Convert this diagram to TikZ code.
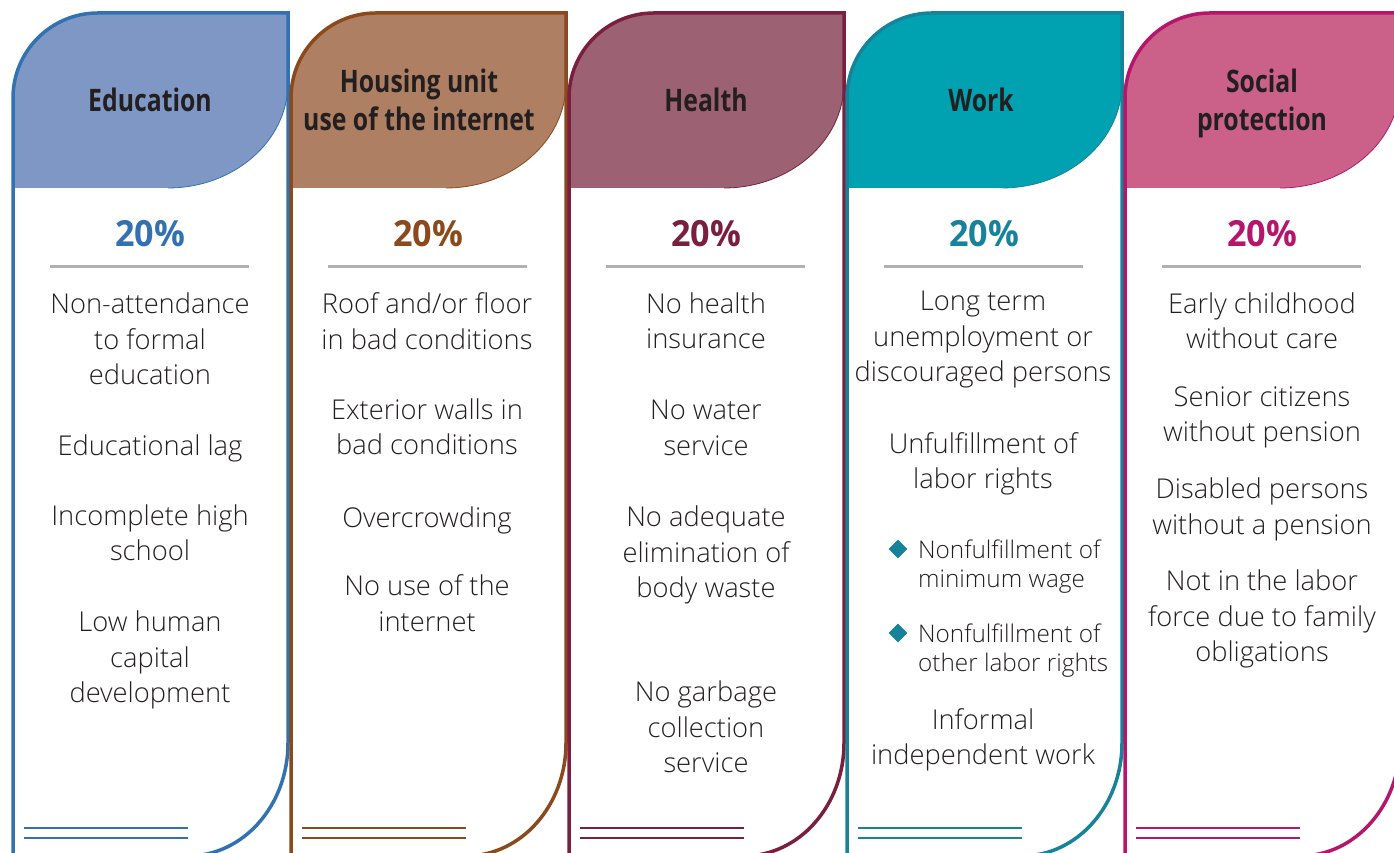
\documentclass[tikz,border=0pt]{standalone}
\usepackage{fontspec}
\setmainfont{Open Sans}[UprightFont=* Light]
\newfontfamily\headfont[FakeStretch=0.8]{Open Sans}
\newfontfamily\pctfont[FakeStretch=0.95]{Open Sans}
\usetikzlibrary{shapes.geometric}

\definecolor{eduline}{HTML}{3372B0}
\definecolor{edufill}{HTML}{7F97C4}
\definecolor{houline}{HTML}{8B4A1C}
\definecolor{houfill}{HTML}{AE7F62}
\definecolor{healine}{HTML}{7A1F3D}
\definecolor{heafill}{HTML}{9C6274}
\definecolor{worline}{HTML}{17839B}
\definecolor{worfill}{HTML}{00A1B1}
\definecolor{socline}{HTML}{B5166B}
\definecolor{socfill}{HTML}{CB6189}
\definecolor{ink}{HTML}{231F20}
\definecolor{rulegray}{HTML}{B1B1B4}

\begin{document}
\begin{tikzpicture}[x=1pt, y=1pt,
    title/.style={font=\headfont\bfseries\fontsize{31}{38}\selectfont, text=ink, align=center, inner sep=0},
    pct/.style={font=\pctfont\bfseries\fontsize{36}{40}\selectfont, inner sep=0},
    item/.style={font=\fontsize{27.3}{35.5}\selectfont, text=ink, align=center, inner sep=0},
    subitem/.style={font=\fontsize{24.3}{29}\selectfont, text=ink, align=left, inner sep=0, anchor=west},
    bullet/.style={diamond, aspect=1, fill=worline, inner sep=0, minimum size=19}]
  \useasboundingbox (0,0) rectangle (1394,853);

  % columns
  \foreach \c/\x in {edu/13, hou/291, hea/569, wor/847, soc/1125} {
    \fill[\c fill] (\x,665) -- (\x,755) arc[start angle=180, end angle=90, radius=85]
      -- (\x+275,840) -- (\x+275,770) .. controls (\x+275,712) and (\x+221,665) .. (\x+155,665) -- cycle;
    \draw[\c line, line width=0.8] (\x+275,770) .. controls (\x+275,712) and (\x+221,665) .. (\x+155,665);
    \draw[\c line, line width=3.5] (\x,-5) -- (\x,755) arc[start angle=180, end angle=90, radius=85]
      -- (\x+275,840) -- (\x+275,110) arc[start angle=0, end angle=-90, x radius=100, y radius=113] -- (\x,-3);
    \draw[rulegray, line width=3] (\x+37,586) -- (\x+236,586);
    \draw[\c line, line width=2.5] (\x+11,25) -- (\x+175,25) (\x+11,15) -- (\x+175,15);
    \node[pct, text=\c line] (\c pct) at (\x+137,619) {20\%};
  }

  % headers
  \node[title] (Edu) at (150,753) {Education};
  \node[title] (Hou) at (419,753) {Housing unit\\use of the internet};
  \node[title] (Hea) at (706,753) {Health};
  \node[title] (Wor) at (981,753) {Work};
  \node[title] (Soc) at (1262,750) {Social\\protection};

  % education
  \node[item] (Edu1) at (150,514) {Non-attendance\\to formal\\education};
  \node[item] (Edu2) at (150,405) {Educational lag};
  \node[item] (Edu3) at (150,320) {Incomplete high\\school};
  \node[item] (Edu4) at (150,193) {Low human\\capital\\development};

  % housing
  \node[item] (Hou1) at (427,532) {Roof and/or floor\\in bad conditions};
  \node[item] (Hou2) at (427,426) {Exterior walls in\\bad conditions};
  \node[item] (Hou3) at (427,333) {Overcrowding};
  \node[item] (Hou4) at (427,250) {No use of the\\internet};

  % health
  \node[item] (Hea1) at (706,532) {No health\\insurance};
  \node[item] (Hea2) at (706,425) {No water\\service};
  \node[item] (Hea3) at (706,298) {No adequate\\elimination of\\body waste};
  \node[item] (Hea4) at (706,126) {No garbage\\collection\\service};

  % work
  \node[item] (Wor1) at (983,513) {Long term\\unemployment or\\discouraged persons};
  \node[item] (Wor2) at (983,389) {Unfulfillment of\\labor rights};
  \node[bullet] (B1) at (898,304) {};
  \node[subitem] (Wor3) at (918,286.5) {Nonfulfillment of\\minimum wage};
  \node[bullet] (B2) at (898,220) {};
  \node[subitem] (Wor4) at (918,202.5) {Nonfulfillment of\\other labor rights};
  \node[item] (Wor5) at (983,113) {Informal\\independent work};

  % social protection
  \node[item] (Soc1) at (1262,532) {Early childhood\\without care};
  \node[item] (Soc2) at (1262,435.5) {Senior citizens\\without pension};
  \node[item] (Soc3) at (1262,343.5) {Disabled persons\\without a pension};
  \node[item] (Soc4) at (1262,234) {Not in the labor\\force due to family\\obligations};
\end{tikzpicture}
\end{document}
